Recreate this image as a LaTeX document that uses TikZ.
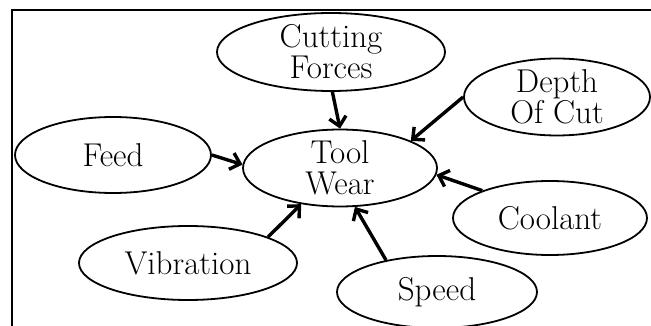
\documentclass[tikz,border=0pt]{standalone}
\usepackage{fontspec}
\usetikzlibrary{arrows.meta,shapes.geometric}
\begin{document}
\begin{tikzpicture}[x=1pt,y=-1pt,
  bubble/.style={draw=black,line width=1.8pt,ellipse,inner sep=0pt,align=center,
    font=\fontsize{33}{31}\selectfont},
  conn/.style={line width=3.4pt,-{Straight Barb[length=9pt,width=17pt,line width=3.4pt]}}]
\useasboundingbox (0,0) rectangle (651,326);
\coordinate (f0) at (12,326);
\coordinate (f1) at (12,10);
\coordinate (f2) at (651,10);
\draw[line width=1.8pt] (f0) -- (f1) -- (f2);
\node[bubble,minimum width=228pt,minimum height=78pt] (cut) at (331,52) {Cutting\\Forces};
\node[bubble,minimum width=186pt,minimum height=72pt] (depth) at (557,97) {Depth\\Of Cut};
\node[bubble,minimum width=196pt,minimum height=76pt] (feed) at (113,155) {Feed};
\node[bubble,minimum width=194pt,minimum height=74pt] (tool) at (340,168) {Tool\\Wear};
\node[bubble,minimum width=218pt,minimum height=74pt] (vib) at (188,263) {Vibration};
\node[bubble,minimum width=194pt,minimum height=74pt] (cool) at (550,218) {Coolant};
\node[bubble,minimum width=200pt,minimum height=72pt] (speed) at (437,292) {Speed};
\draw[conn] (cut.-88) -- (tool.90);
\draw[conn] (depth.180) -- (tool.21);
\draw[conn] (feed.0) -- (tool.178);
\draw[conn] (vib.18) -- (tool.-137);
\draw[conn] (speed.148) -- (tool.-69);
\draw[conn] (cool.158) -- (tool.-4);
\end{tikzpicture}
\end{document}
